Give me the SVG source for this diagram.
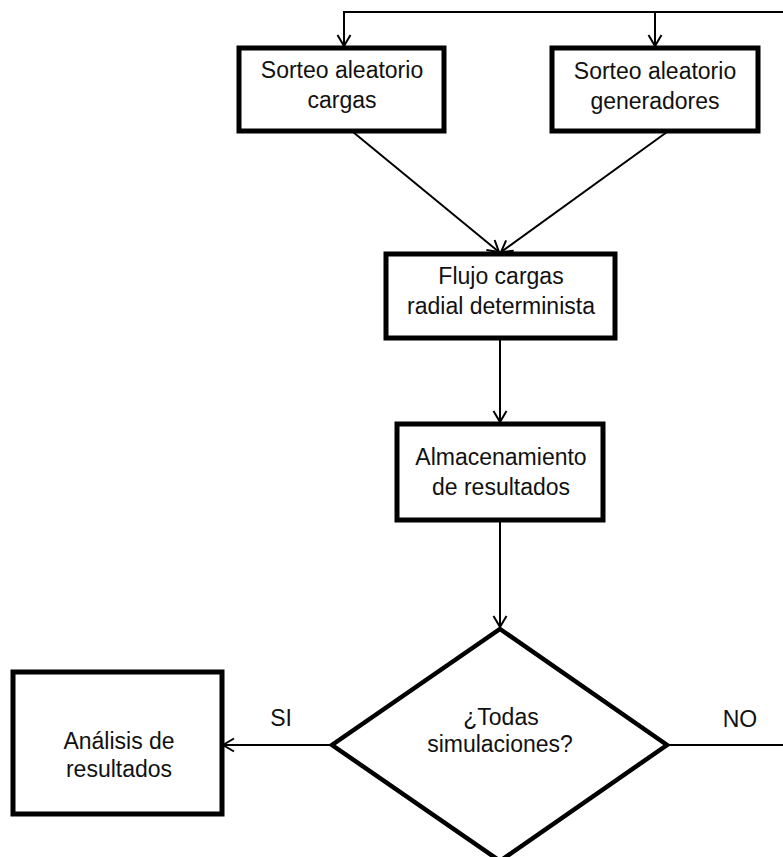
<svg xmlns="http://www.w3.org/2000/svg" width="783" height="857" viewBox="0 0 783 857">
<defs>
<style>
.box{fill:#fff;stroke:#000;stroke-width:5}
.dia{fill:#fff;stroke:#000;stroke-width:4.5}
.con{fill:none;stroke:#000;stroke-width:2}
text{font-family:"Liberation Sans",Arial,sans-serif;font-size:23px;fill:#111;text-anchor:middle}
</style>
<marker id="arr" viewBox="-12 -8 14 16" refX="0" refY="0" markerWidth="14" markerHeight="16" markerUnits="userSpaceOnUse" orient="auto">
<path d="M-11,-6.5 L0,0 L-11,6.5" fill="none" stroke="#000" stroke-width="2"/>
</marker>
</defs>
<rect width="783" height="857" fill="#fff"/>
<g id="connectors">
<path class="con" d="M783,12 H344 V46" marker-end="url(#arr)"/>
<path class="con" d="M655,12 V46" marker-end="url(#arr)"/>
<path class="con" d="M353,132 L499,252" marker-end="url(#arr)"/>
<path class="con" d="M667,132 L501,252" marker-end="url(#arr)"/>
<path class="con" d="M500,338 V422" marker-end="url(#arr)"/>
<path class="con" d="M500,520 V627" marker-end="url(#arr)"/>
<path class="con" d="M332,745 H223" marker-end="url(#arr)"/>
<path class="con" d="M667,745 H783"/>
<text x="281" y="726">SI</text>
<text x="740" y="727">NO</text>
</g>
<g id="n1">
<rect class="box" x="239" y="48" width="205" height="83"/>
<text x="342" y="78">Sorteo aleatorio</text>
<text x="342" y="108">cargas</text>
</g>
<g id="n2">
<rect class="box" x="552" y="48" width="206" height="83"/>
<text x="655" y="79">Sorteo aleatorio</text>
<text x="655" y="109">generadores</text>
</g>
<g id="n3">
<rect class="box" x="386" y="254" width="229" height="84"/>
<text x="501" y="284">Flujo cargas</text>
<text x="501" y="314">radial determinista</text>
</g>
<g id="n4">
<rect class="box" x="397" y="424" width="206" height="96"/>
<text x="501" y="465">Almacenamiento</text>
<text x="501" y="495">de resultados</text>
</g>
<g id="n5">
<polygon class="dia" points="500,629 667,745 500,861 332,745"/>
<text x="501" y="725">¿Todas</text>
<text x="500" y="752">simulaciones?</text>
</g>
<g id="n6">
<rect class="box" x="13" y="672" width="209" height="142"/>
<text x="119" y="749">Análisis de</text>
<text x="119" y="777">resultados</text>
</g>
</svg>
